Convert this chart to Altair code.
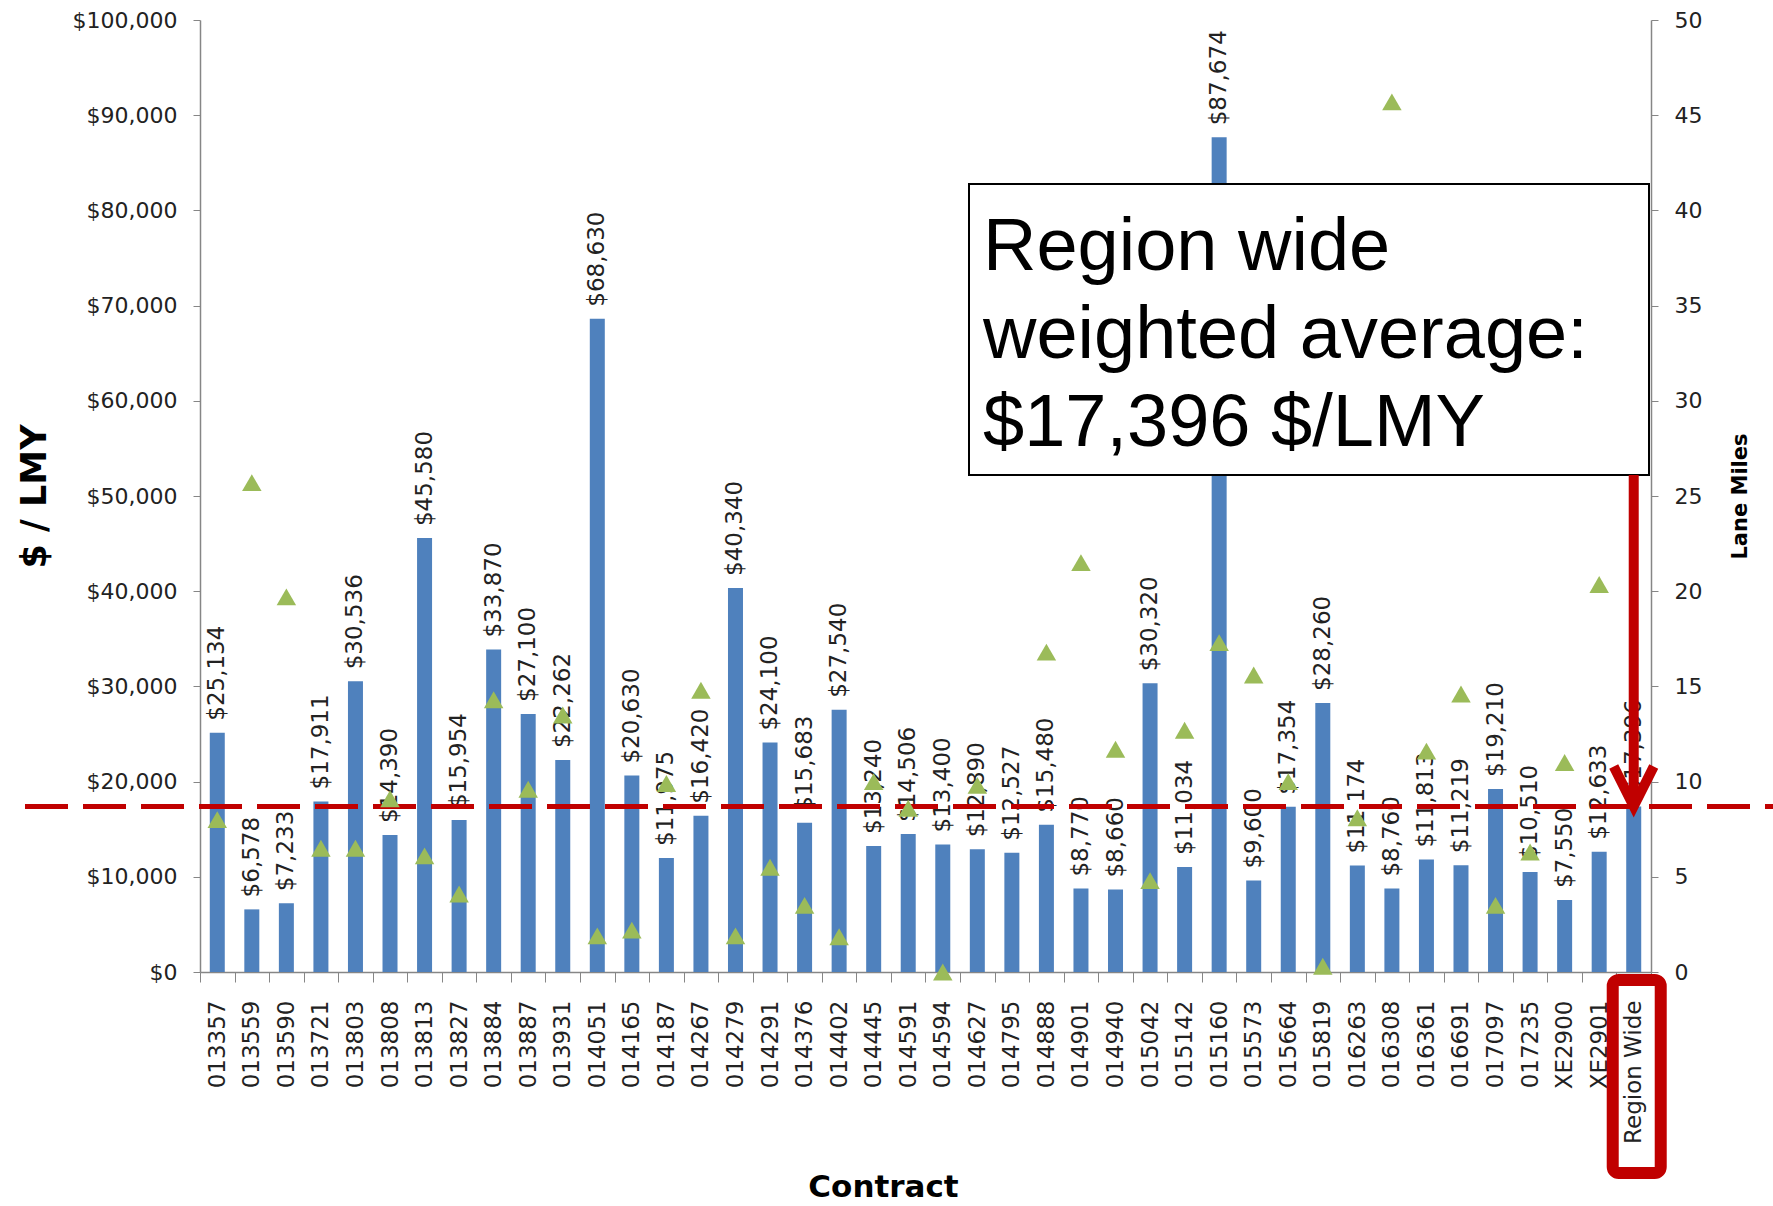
import altair as alt
import pandas as pd

contracts = ["013357", "013559", "013590", "013721", "013803", "013808", "013813", "013827",
             "013884", "013887", "013931", "014051", "014165", "014187", "014267", "014279",
             "014291", "014376", "014402", "014445", "014591", "014594", "014627", "014795",
             "014888", "014901", "014940", "015042", "015142", "015160", "015573", "015664",
             "015819", "016263", "016308", "016361", "016691", "017097", "017235", "XE2900",
             "XE2901", "Region Wide"]
cost_per_lmy = [25134, 6578, 7233, 17911, 30536, 14390, 45580, 15954, 33870, 27100, 22262,
                68630, 20630, 11975, 16420, 40340, 24100, 15683, 27540, 13240, 14506, 13400,
                12890, 12527, 15480, 8770, 8660, 30320, 11034, 87674, 9600, 17354, 28260,
                11174, 8760, 11813, 11219, 19210, 10510, 7550, 12633, 17396]
lane_miles = [8.0, 25.7, 19.7, 6.5, 6.5, 9.1, 6.1, 4.1, 14.3, 9.6, 13.5, 1.9, 2.2, 9.9, 14.8,
              1.9, 5.5, 3.5, 1.85, 10.0, 8.6, 0.0, 9.8, None, 16.8, 21.5, 11.7, 4.8, 12.7,
              17.3, 15.6, 10.0, 0.3, 8.1, 45.7, 11.6, 14.6, 3.5, 6.3, 11.0, 20.35, None]
region_name = "Region Wide"
region_avg = 17396
box_lines = ["Region wide", "weighted average:", "$17,396 $/LMY"]

labels = ["${:,}".format(v) for v in cost_per_lmy]
df = pd.DataFrame({"contract": contracts, "cost": cost_per_lmy,
                   "miles": lane_miles, "label": labels})
reg = pd.DataFrame({"contract": [region_name], "cost": [region_avg]})

W, H = 1451, 952
RED = "#C00000"
GRAY = "#868686"

xsc = alt.Scale(domain=contracts, paddingInner=0, paddingOuter=0)
yL = alt.Scale(domain=[0, 100000], nice=False, zero=True)
yR = alt.Scale(domain=[0, 50], nice=False, zero=True)

x_axis = alt.Axis(
    title="Contract", orient="bottom", labelAngle=270, labelAlign="right",
    labelBaseline="middle",
    labelFont="DejaVu Sans", labelFontSize=23,
    labelColor="#222222", labelPadding=18, labelOverlap=False,
    ticks=True, tickBand="extent", tickSize=10, tickColor=GRAY,
    domainColor=GRAY, domainWidth=1.5,
    titleFont="DejaVu Sans", titleFontSize=31, titleFontWeight="bold", titleColor="black",
    titleX=683, titleY=200, titleBaseline="top", titleAlign="center")

yL_axis = alt.Axis(
    title="$ / LMY", orient="left", format="$,.0f", values=list(range(0, 100001, 10000)),
    labelFont="DejaVu Sans", labelFontSize=22, labelColor="#222222", labelPadding=16,
    tickSize=7, tickColor=GRAY, domainColor=GRAY, domainWidth=1.5, grid=False,
    titleFont="DejaVu Sans", titleFontSize=35, titleFontWeight="bold", titleColor="black",
    titlePadding=20)

yR_axis = alt.Axis(
    title="Lane Miles", orient="right", values=list(range(0, 51, 5)),
    labelFont="DejaVu Sans", labelFontSize=22, labelColor="#222222", labelPadding=16,
    tickSize=7, tickColor=GRAY, domainColor=GRAY, domainWidth=1.5, grid=False,
    titleFont="DejaVu Sans", titleFontSize=21, titleFontWeight="bold", titleColor="black",
    titleAngle=270, titleBaseline="top", titlePadding=28)

xenc = alt.X("contract:N", sort=contracts, scale=xsc, axis=x_axis)
yenc_cost = alt.Y("cost:Q", scale=yL, axis=yL_axis)

base = alt.Chart(df)

bars = base.mark_bar(width=15, color="#4F81BD").encode(x=xenc, y=yenc_cost)

bar_labels = base.mark_text(
    angle=270, align="left", baseline="middle", dx=12,
    font="DejaVu Sans", fontSize=23, color="#222222"
).encode(x=xenc, y=yenc_cost, text="label:N")

avg_rule = alt.Chart(reg).mark_rule(
    color=RED, strokeWidth=5, strokeDash=[43, 15]
).encode(x=alt.value(-175), x2=alt.value(1573), y=yenc_cost)

note_box = alt.Chart(reg).mark_rect(
    fill="white", stroke="black", strokeWidth=2
).encode(x=alt.value(769), x2=alt.value(1449), y=alt.value(164), y2=alt.value(455))

note_text = alt.Chart(reg).mark_text(
    text=box_lines, align="left", baseline="alphabetic",
    font="Liberation Sans", fontSize=74, lineHeight=88, color="black"
).encode(x=alt.value(783), y=alt.value(250))

arrow_line = alt.Chart(reg).mark_rule(color=RED, strokeWidth=10).encode(
    x=xenc, y=yenc_cost, y2=alt.value(455))

arrow_head = alt.Chart(reg).mark_point(
    shape="M-1,-2L0,0L1,-2", filled=False, stroke=RED, strokeWidth=10,
    size=1600, opacity=1, strokeJoin="miter"
).encode(x=xenc, y=yenc_cost)

label_box = alt.Chart(reg).mark_bar(
    width=48, fill="white", fillOpacity=0, stroke=RED, strokeWidth=12, cornerRadius=6,
    xOffset=3
).encode(x=xenc, y=alt.value(960), y2=alt.value(1153))

left_part = alt.layer(bars, bar_labels, avg_rule, note_box, note_text,
                      arrow_line, arrow_head, label_box)

tris = base.transform_filter("isValid(datum.miles)").mark_point(
    shape="triangle-up", filled=True, color="#9BBB59", size=380, opacity=1
).encode(
    x=xenc,
    y=alt.Y("miles:Q", scale=yR, axis=yR_axis),
)

chart = alt.layer(left_part, tris).resolve_scale(y="independent").properties(
    width=W, height=H,
    autosize=alt.AutoSizeParams(type="none"),
    padding={"left": 200, "top": 20, "right": 122, "bottom": 234},
    background="white",
).configure_view(stroke=None)

chart.save("out.html", embed_options={"renderer": "svg", "actions": False})
